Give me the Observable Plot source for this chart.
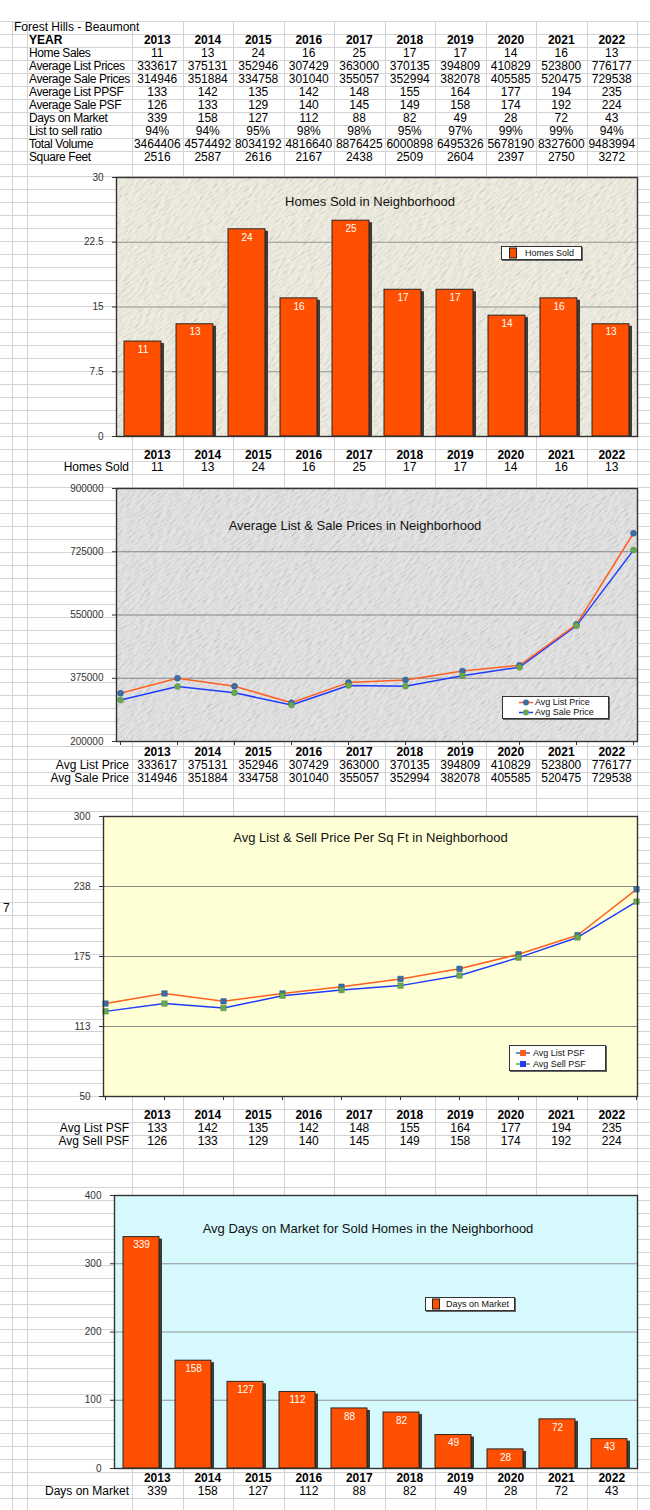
<!DOCTYPE html>
<html>
<head>
<meta charset="utf-8">
<script src="https://cdn.jsdelivr.net/npm/d3@7"></script>
<script src="https://cdn.jsdelivr.net/npm/@observablehq/plot@0.6"></script>
<style>
  html, body { margin: 0; padding: 0; background: #fff; }
  #page { position: relative; width: 650px; height: 1510px; overflow: hidden; font-family: "Liberation Sans", Arial, Helvetica, sans-serif; color: #000; }
  .cell { position: absolute; font-size: 12px; white-space: nowrap; }
  .c { text-align: center; }
  .r { text-align: right; }
  .b { font-weight: bold; }
  .lbl { letter-spacing: -0.4px; }
  .legend { position: absolute; background: #fff; border: 1px solid #333; box-shadow: 1px 1px 0 #666; font-size: 9px; color: #111; box-sizing: border-box; }
  .legend .row { position: absolute; left: 0; white-space: nowrap; display: flex; align-items: center; }
  .legend svg { display: block; }
</style>
</head>
<body>
<div id="page"></div>
<script>
// ---------------- DATA ----------------
const years = ["2013","2014","2015","2016","2017","2018","2019","2020","2021","2022"];
const homeSales = [11,13,24,16,25,17,17,14,16,13];
const avgListPrice = [333617,375131,352946,307429,363000,370135,394809,410829,523800,776177];
const avgSalePrice = [314946,351884,334758,301040,355057,352994,382078,405585,520475,729538];
const avgListPPSF = [133,142,135,142,148,155,164,177,194,235];
const avgSalePSF = [126,133,129,140,145,149,158,174,192,224];
const daysOnMarket = [339,158,127,112,88,82,49,28,72,43];
const listToSell = ["94%","94%","95%","98%","98%","95%","97%","99%","99%","94%"];
const totalVolume = [3464406,4574492,8034192,4816640,8876425,6000898,6495326,5678190,8327600,9483994];
const squareFeet = [2516,2587,2616,2167,2438,2509,2604,2397,2750,3272];

const sheetTitle = "Forest Hills - Beaumont";
const topRowLabels = ["Home Sales","Average List Prices","Average Sale Prices","Average List PPSF","Average Sale PSF","Days on Market","List to sell ratio","Total Volume","Square Feet"];

const homesTicks = [0, 7.5, 15, 22.5, 30];
const priceTicks = [200000, 375000, 550000, 725000, 900000];
const psfTicks = [50, 112.5, 175, 237.5, 300];
const domTicks = [0, 100, 200, 300, 400];

const chartTitles = ["Homes Sold in Neighborhood", "Average List & Sale Prices in Neighborhood", "Avg List & Sell Price Per Sq Ft in Neighborhood", "Avg Days on Market for Sold Homes in the Neighborhood"];

// ---------------- LAYOUT ----------------
const page = document.getElementById("page");
const SVGNS = "http://www.w3.org/2000/svg";
const ROW0 = 21, ROWH = 12.955;
const colEdges = [12, 27, 132, 182.5, 233, 283.5, 334, 384.5, 435, 485.5, 536, 586.5, 637];
const dataColLeft = j => 132 + 50.5 * j;
const rowTop = k => ROW0 + ROWH * k;

// spreadsheet grid
const grid = d3.create("svg").attr("width", 650).attr("height", 1510)
  .style("position", "absolute").style("left", 0).style("top", 0);
for (let k = 0; k <= 116; k++) {
  const y = Math.round(rowTop(k)) + 0.5;
  grid.append("line").attr("x1", 0).attr("x2", 650).attr("y1", y).attr("y2", y).attr("stroke", "#d3d3d3");
}
for (const x of colEdges) {
  const xx = Math.round(x) + 0.5;
  grid.append("line").attr("x1", xx).attr("x2", xx).attr("y1", ROW0).attr("y2", 1510).attr("stroke", "#d3d3d3");
}
page.appendChild(grid.node());

function cell(text, k, left, width, cls) {
  const d = document.createElement("div");
  d.className = "cell " + (cls || "");
  d.textContent = text;
  d.style.left = left + "px";
  d.style.width = width + "px";
  d.style.top = rowTop(k) + "px";
  d.style.height = ROWH + "px";
  d.style.lineHeight = ROWH + "px";
  page.appendChild(d);
}
function dataRow(values, k, cls) {
  values.forEach((v, j) => cell(String(v), k, dataColLeft(j), 50.5, "c " + (cls || "")));
}

// top table
cell(sheetTitle, 0, 14, 200, "");
cell("YEAR", 1, 29, 100, "b");
dataRow(years, 1, "b");
const topRows = [homeSales, avgListPrice, avgSalePrice, avgListPPSF, avgSalePSF, daysOnMarket, listToSell, totalVolume, squareFeet];
topRows.forEach((vals, i) => {
  cell(topRowLabels[i], 2 + i, 29, 103, "lbl");
  dataRow(vals, 2 + i, "");
});
cell("7", 68, 3, 10, "");

// tables below charts
function subTable(kYears, rows) {
  dataRow(years, kYears, "b");
  rows.forEach(([label, vals], i) => {
    cell(label, kYears + 1 + i, 27, 102, "r");
    dataRow(vals, kYears + 1 + i, "");
  });
}
subTable(33, [["Homes Sold", homeSales]]);
subTable(56, [["Avg List Price", avgListPrice], ["Avg Sale Price", avgSalePrice]]);
subTable(84, [["Avg List PSF", avgListPPSF], ["Avg Sell PSF", avgSalePSF]]);
subTable(112, [["Days on Market", daysOnMarket]]);

// ---------------- CHARTS ----------------
const baseStyle = {background: "transparent", fontFamily: "Liberation Sans, Arial, sans-serif", fontSize: "10px", color: "#333", overflow: "visible"};
function place(svg, top) {
  svg.style.position = "absolute";
  svg.style.left = "0px";
  svg.style.top = top + "px";
  page.appendChild(svg);
}

// embossed paper-like texture laid over the frame background
function addTexture(svg, id, x0, y0, w, h, lightColor, freq, opacity) {
  const s = d3.select(svg);
  const defs = s.insert("defs", ":first-child");
  defs.append("clipPath").attr("id", id + "c")
    .append("rect").attr("x", x0).attr("y", y0).attr("width", w).attr("height", h);
  const f = defs.append("filter").attr("id", id + "f")
    .attr("filterUnits", "userSpaceOnUse").attr("x", -2000).attr("y", -2000).attr("width", 4000).attr("height", 4000);
  f.append("feTurbulence").attr("type", "fractalNoise").attr("baseFrequency", freq).attr("numOctaves", 2).attr("seed", 7).attr("result", "n");
  const l = f.append("feDiffuseLighting").attr("in", "n").attr("lighting-color", lightColor)
    .attr("surfaceScale", 1.4).attr("diffuseConstant", 1).attr("result", "l");
  l.append("feDistantLight").attr("azimuth", 225).attr("elevation", 65);
  f.append("feComposite").attr("in", "l").attr("in2", "SourceGraphic").attr("operator", "in");
  const frameG = svg.querySelector('[aria-label="frame"]');
  const g = document.createElementNS(SVGNS, "g");
  g.setAttribute("clip-path", `url(#${id}c)`);
  g.setAttribute("opacity", opacity);
  frameG.after(g);
  const cx = x0 + w / 2, cy = y0 + h / 2, d = Math.hypot(w, h) + 20;
  d3.select(g).append("rect")
    .attr("x", cx - d / 2).attr("y", cy - d / 2).attr("width", d).attr("height", d)
    .attr("fill", "#fff").attr("filter", `url(#${id}f)`)
    .attr("transform", `rotate(-35 ${cx} ${cy})`);
}

function barChart({id, values, ticks, title, frameTop, frameBottom, frameLeft, bg, texture, titleDx, titleDy, paddingInner, paddingOuter}) {
  const data = years.map((year, i) => ({year, value: values[i]}));
  const inner = ticks.slice(1, -1);
  const svg = Plot.plot({
    width: 650, height: frameBottom - frameTop + 20,
    marginLeft: frameLeft, marginRight: 13, marginTop: 10, marginBottom: 10,
    style: baseStyle,
    x: {type: "band", domain: years, paddingInner, paddingOuter, axis: null},
    y: {domain: [ticks[0], ticks[ticks.length - 1]], ticks, tickFormat: d => String(d), tickSize: 4, tickPadding: 9, label: null},
    marks: [
      Plot.frame({fill: bg}),
      Plot.ruleY(inner, {stroke: "#8a8a86", strokeWidth: 0.9}),
      Plot.barY(data, {x: "year", y: "value", fill: "#3c3c3c", dx: 3, dy: 2, clip: true}),
      Plot.barY(data, {x: "year", y: "value", fill: "#ff4f00", stroke: "#1a1a1a", strokeWidth: 0.9}),
      Plot.text(data, {x: "year", y: "value", text: d => String(d.value), dy: 8, fill: "#fff", fontSize: 10}),
      Plot.text([title], {text: d => d, frameAnchor: "top", lineAnchor: "middle", dx: titleDx, dy: titleDy, fontSize: 13, fill: "#111"}),
      Plot.frame({stroke: "#333", strokeWidth: 1.4})
    ]
  });
  if (texture) addTexture(svg, id, frameLeft, 10, 637 - frameLeft, frameBottom - frameTop, texture, "0.12 0.75", 0.75);
  place(svg, frameTop - 10);
}

function lineChart({id, list, sale, ticks, title, frameTop, frameBottom, frameLeft, bg, texture, titleDx, titleDy, symbol, r, fmt}) {
  const data = years.map((year, i) => ({year, list: list[i], sale: sale[i]}));
  const inner = ticks.slice(1, -1);
  const svg = Plot.plot({
    width: 650, height: frameBottom - frameTop + 20,
    marginLeft: frameLeft, marginRight: 13, marginTop: 10, marginBottom: 10,
    style: baseStyle,
    x: {type: "point", domain: years, padding: 0, tickSize: 4, tickFormat: () => "", label: null},
    y: {domain: [ticks[0], ticks[ticks.length - 1]], ticks, tickFormat: fmt, tickSize: 4, tickPadding: 9, label: null},
    marks: [
      Plot.frame({fill: bg}),
      Plot.ruleY(inner, {stroke: "#7a7a7a", strokeWidth: 0.9}),
      Plot.line(data, {x: "year", y: "sale", stroke: "#1f3cff", strokeWidth: 1.5}),
      Plot.line(data, {x: "year", y: "list", stroke: "#ff5f1f", strokeWidth: 1.5}),
      Plot.dot(data, {x: "year", y: "list", symbol, r, fill: "#3b6ea6", stroke: "#2c5585", strokeWidth: 0.5}),
      Plot.dot(data, {x: "year", y: "sale", symbol, r, fill: "#6aa84f", stroke: "#4f8a3a", strokeWidth: 0.5}),
      Plot.text([title], {text: d => d, frameAnchor: "top", lineAnchor: "middle", dx: titleDx, dy: titleDy, fontSize: 13, fill: "#111"}),
      Plot.frame({stroke: "#333", strokeWidth: 1.4})
    ]
  });
  if (texture) addTexture(svg, id, frameLeft, 10, 637 - frameLeft, frameBottom - frameTop, texture, "0.12 0.75", 0.75);
  place(svg, frameTop - 10);
}

barChart({id: "t1", values: homeSales, ticks: homesTicks, title: chartTitles[0], frameTop: 177, frameBottom: 436, frameLeft: 116,
  bg: "#e8e6d9", texture: "#f7f5e8", titleDx: -7, titleDy: 24, paddingInner: 0.29, paddingOuter: 0.14});
lineChart({id: "t2", list: avgListPrice, sale: avgSalePrice, ticks: priceTicks, title: chartTitles[1], frameTop: 488, frameBottom: 741, frameLeft: 116,
  bg: "#d8d8d8", texture: "#ececec", titleDx: -22, titleDy: 37, symbol: "circle", r: 3, fmt: d => String(d)});
lineChart({id: "t3", list: avgListPPSF, sale: avgSalePSF, ticks: psfTicks, title: chartTitles[2], frameTop: 816, frameBottom: 1096, frameLeft: 103,
  bg: "#ffffd6", texture: null, titleDx: 0, titleDy: 21, symbol: "square", r: 3.1, fmt: d => String(Math.round(d))});
barChart({id: "t4", values: daysOnMarket, ticks: domTicks, title: chartTitles[3], frameTop: 1195, frameBottom: 1468, frameLeft: 114,
  bg: "#d5f9fd", texture: null, titleDx: -8, titleDy: 33, paddingInner: 0.3, paddingOuter: 0.15});

// ---------------- LEGENDS ----------------
function legend(left, top, width, height, rows) {
  const box = document.createElement("div");
  box.className = "legend";
  Object.assign(box.style, {left: left + "px", top: top + "px", width: width + "px", height: height + "px"});
  rows.forEach(row => {
    const r = document.createElement("div");
    r.className = "row";
    r.style.top = row.top + "px";
    r.style.left = row.left + "px";
    r.style.height = row.h + "px";
    const icon = d3.create("svg").attr("width", row.iconW).attr("height", row.h);
    row.draw(icon, row.h);
    r.appendChild(icon.node());
    const t = document.createElement("span");
    t.textContent = row.label;
    t.style.marginLeft = row.gap + "px";
    t.style.lineHeight = row.h + "px";
    r.appendChild(t);
    box.appendChild(r);
  });
  page.appendChild(box);
}
const barIcon = (s, h) => s.append("rect").attr("x", 1.5).attr("y", 1).attr("width", 7).attr("height", h - 2).attr("fill", "#ff4f00").attr("stroke", "#222").attr("stroke-width", 1);
const lineIcon = (color, marker, sym) => (s, h) => {
  s.append("line").attr("x1", 0).attr("x2", 14).attr("y1", h / 2).attr("y2", h / 2).attr("stroke", color).attr("stroke-width", 1.5);
  if (sym === "circle") s.append("circle").attr("cx", 7).attr("cy", h / 2).attr("r", 3).attr("fill", marker);
  else s.append("rect").attr("x", 4).attr("y", h / 2 - 3).attr("width", 6).attr("height", 6).attr("fill", marker);
};
legend(501, 246, 81, 14, [{label: "Homes Sold", top: 0, left: 6, h: 12, iconW: 10, gap: 7, draw: barIcon}]);
legend(502, 696, 107, 23, [
  {label: "Avg List Price", top: 0, left: 16, h: 11, iconW: 14, gap: 2, draw: lineIcon("#ff5f1f", "#3b6ea6", "circle")},
  {label: "Avg Sale Price", top: 10, left: 16, h: 11, iconW: 14, gap: 2, draw: lineIcon("#1f3cff", "#6aa84f", "circle")}
]);
legend(509, 1045, 97, 26, [
  {label: "Avg List PSF", top: 1, left: 6, h: 12, iconW: 14, gap: 3, draw: lineIcon("#3b6ea6", "#ff5f1f", "square")},
  {label: "Avg Sell PSF", top: 12, left: 6, h: 12, iconW: 14, gap: 3, draw: lineIcon("#6aa84f", "#1f3cff", "square")}
]);
legend(425, 1297, 90, 14, [{label: "Days on Market", top: 0, left: 5, h: 12, iconW: 10, gap: 5, draw: barIcon}]);
</script>
</body>
</html>
